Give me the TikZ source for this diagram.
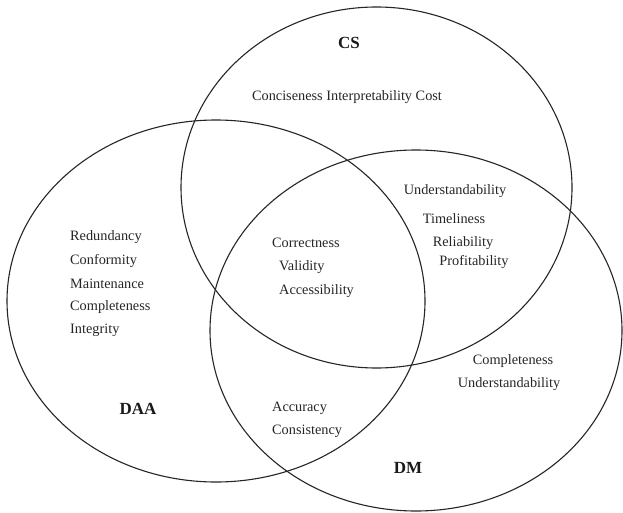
\documentclass[tikz,border=0pt]{standalone}
\usepackage{fontspec}
\setmainfont{Liberation Serif}
\begin{document}
\begin{tikzpicture}[x=1pt,y=-1pt,
  ring/.style={draw=black!85, line width=1.1pt},
  item/.style={inner sep=0pt, font=\fontsize{14.3}{16}\selectfont, text=black!85},
  setlabel/.style={inner sep=0pt, font=\fontsize{17}{18}\selectfont\bfseries, text=black!90}]
\useasboundingbox[fill=white] (0,0) rectangle (623,513);
% sets
\draw[ring] (376.5,187.5) ellipse [x radius=195.5, y radius=180.5];
\draw[ring] (216,301) ellipse [x radius=209, y radius=181];
\draw[ring] (416,330.5) ellipse [x radius=206, y radius=180.5];
% labels
\node[setlabel] (cs) at (349,43) {CS};
\node[setlabel] (daa) at (138,409) {DAA};
\node[setlabel] (dm) at (408,468) {DM};
% CS only
\node[item] (cs1) at (347,97) {Conciseness Interpretability Cost};
% DAA only
\node[item, anchor=west] (d1) at (70,237) {Redundancy};
\node[item, anchor=west] (d2) at (70,261) {Conformity};
\node[item, anchor=west] (d3) at (70,284) {Maintenance};
\node[item, anchor=west] (d4) at (70,307) {Completeness};
\node[item, anchor=west] (d5) at (70,330) {Integrity};
% all three
\node[item, anchor=west] (c1) at (272,243) {Correctness};
\node[item, anchor=west] (c2) at (279,267) {Validity};
\node[item, anchor=west] (c3) at (279,291) {Accessibility};
% CS and DM
\node[item] (e1) at (455,191) {Understandability};
\node[item] (e2) at (454,219) {Timeliness};
\node[item] (e3) at (463,243) {Reliability};
\node[item] (e4) at (474,262) {Profitability};
% DAA and DM
\node[item, anchor=west] (a1) at (272,408) {Accuracy};
\node[item, anchor=west] (a2) at (272,431) {Consistency};
% DM only
\node[item] (m1) at (513,361) {Completeness};
\node[item] (m2) at (509,384) {Understandability};
\end{tikzpicture}
\end{document}
